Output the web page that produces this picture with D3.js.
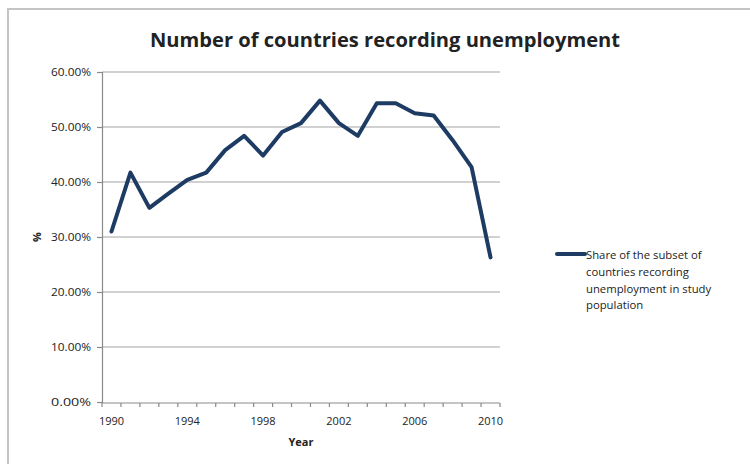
<!DOCTYPE html>
<html>
<head>
<meta charset="utf-8">
<script src="https://cdn.jsdelivr.net/npm/d3@7/dist/d3.min.js"></script>
<style>
  html, body { margin: 0; padding: 0; background: #fff; }
  svg { display: block; }
  text { font-family: "Open Sans", "DejaVu Sans", sans-serif; fill: #222; }
</style>
</head>
<body>
<svg id="chart" width="750" height="464"></svg>
<script>
// Share of countries recording unemployment, by year
const years = d3.range(1990, 2011);
const shares = [31.0, 41.7, 35.3, 37.9, 40.4, 41.7, 45.8, 48.4, 44.8, 49.1, 50.7,
                54.8, 50.7, 48.4, 54.3, 54.3, 52.5, 52.1, 47.6, 42.7, 26.3];
const yTicks = [0, 10, 20, 30, 40, 50, 60];
const xTickLabels = [1990, 1994, 1998, 2002, 2006, 2010];
const titleText = "Number of countries recording unemployment";
const seriesName = ["Share of the subset of", "countries recording", "unemployment in study", "population"];

const svg = d3.select("#chart");
const plot = { left: 102, right: 500, top: 72, bottom: 402 };
const lineColor = "#1d3b63";

// outer frame (extends past the right and bottom edges)
svg.append("rect")
  .attr("x", 8).attr("y", 9).attr("width", 800).attr("height", 500)
  .attr("fill", "none").attr("stroke", "#c4c4c4").attr("stroke-width", 2);

const x = d3.scaleBand().domain(years).range([plot.left, plot.right]);
const y = d3.scaleLinear().domain([0, 60]).range([plot.bottom, plot.top]);

// horizontal gridlines
svg.append("g").selectAll("line")
  .data(yTicks.filter(d => d > 0))
  .join("line")
  .attr("x1", plot.left).attr("x2", plot.right)
  .attr("y1", d => y(d)).attr("y2", d => y(d))
  .attr("stroke", "#c2c2c2").attr("stroke-width", 1.5);

// y axis
const yAxis = svg.append("g")
  .attr("transform", `translate(${plot.left},0)`)
  .call(d3.axisLeft(y).tickValues(yTicks).tickSize(5).tickPadding(6)
    .tickFormat(d => d.toFixed(2) + "%"));
yAxis.select(".domain").attr("stroke", "#8a8a8a").attr("stroke-width", 1.2);
yAxis.selectAll(".tick line").attr("stroke", "#8a8a8a").attr("stroke-width", 1.2);
yAxis.selectAll("text").style("font-size", "11px").attr("fill", "#333")
  .attr("textLength", 40).attr("lengthAdjust", "spacingAndGlyphs");

// x axis: ticks at category boundaries, labels every fourth year
const xAxisG = svg.append("g").attr("transform", `translate(0,${plot.bottom + 1})`);
xAxisG.append("line")
  .attr("x1", plot.left).attr("x2", plot.right)
  .attr("stroke", "#8a8a8a").attr("stroke-width", 1.2);
const boundaries = years.map(d => x(d)).concat([x(years[years.length - 1]) + x.bandwidth()]);
xAxisG.selectAll("line.tk").data(boundaries).join("line").attr("class", "tk")
  .attr("x1", d => d).attr("x2", d => d).attr("y1", 0).attr("y2", 4)
  .attr("stroke", "#8a8a8a").attr("stroke-width", 1.2);
xAxisG.selectAll("text").data(xTickLabels).join("text")
  .attr("x", d => x(d) + x.bandwidth() / 2).attr("y", 22)
  .attr("text-anchor", "middle").style("font-size", "11px").attr("fill", "#333")
  .text(d => d);

// axis titles
svg.append("text").attr("x", (plot.left + plot.right) / 2).attr("y", 446)
  .attr("text-anchor", "middle").style("font-size", "11px").style("font-weight", "bold")
  .text("Year");
svg.append("text")
  .attr("transform", `translate(41,${(plot.top + plot.bottom) / 2}) rotate(-90)`)
  .attr("text-anchor", "middle").style("font-size", "11px").style("font-weight", "bold")
  .text("%");

// chart title
svg.append("text").attr("x", 385).attr("y", 47)
  .attr("text-anchor", "middle").style("font-size", "19px").style("font-weight", "bold")
  .attr("fill", "#111")
  .attr("textLength", 470).attr("lengthAdjust", "spacingAndGlyphs")
  .text(titleText);

// data line
const line = d3.line()
  .x((d, i) => x(years[i]) + x.bandwidth() / 2)
  .y(d => y(d));
svg.append("path").datum(shares)
  .attr("d", line).attr("fill", "none")
  .attr("stroke", lineColor).attr("stroke-width", 4)
  .attr("stroke-linejoin", "round").attr("stroke-linecap", "round");

// legend
const lg = svg.append("g");
lg.append("line").attr("x1", 557).attr("x2", 585).attr("y1", 254).attr("y2", 254)
  .attr("stroke", lineColor).attr("stroke-width", 4).attr("stroke-linecap", "round");
lg.selectAll("text").data(seriesName).join("text")
  .attr("x", 586).attr("y", (d, i) => 259 + i * 16.8)
  .style("font-size", "11.3px").attr("fill", "#222")
  .text(d => d);
</script>
</body>
</html>
